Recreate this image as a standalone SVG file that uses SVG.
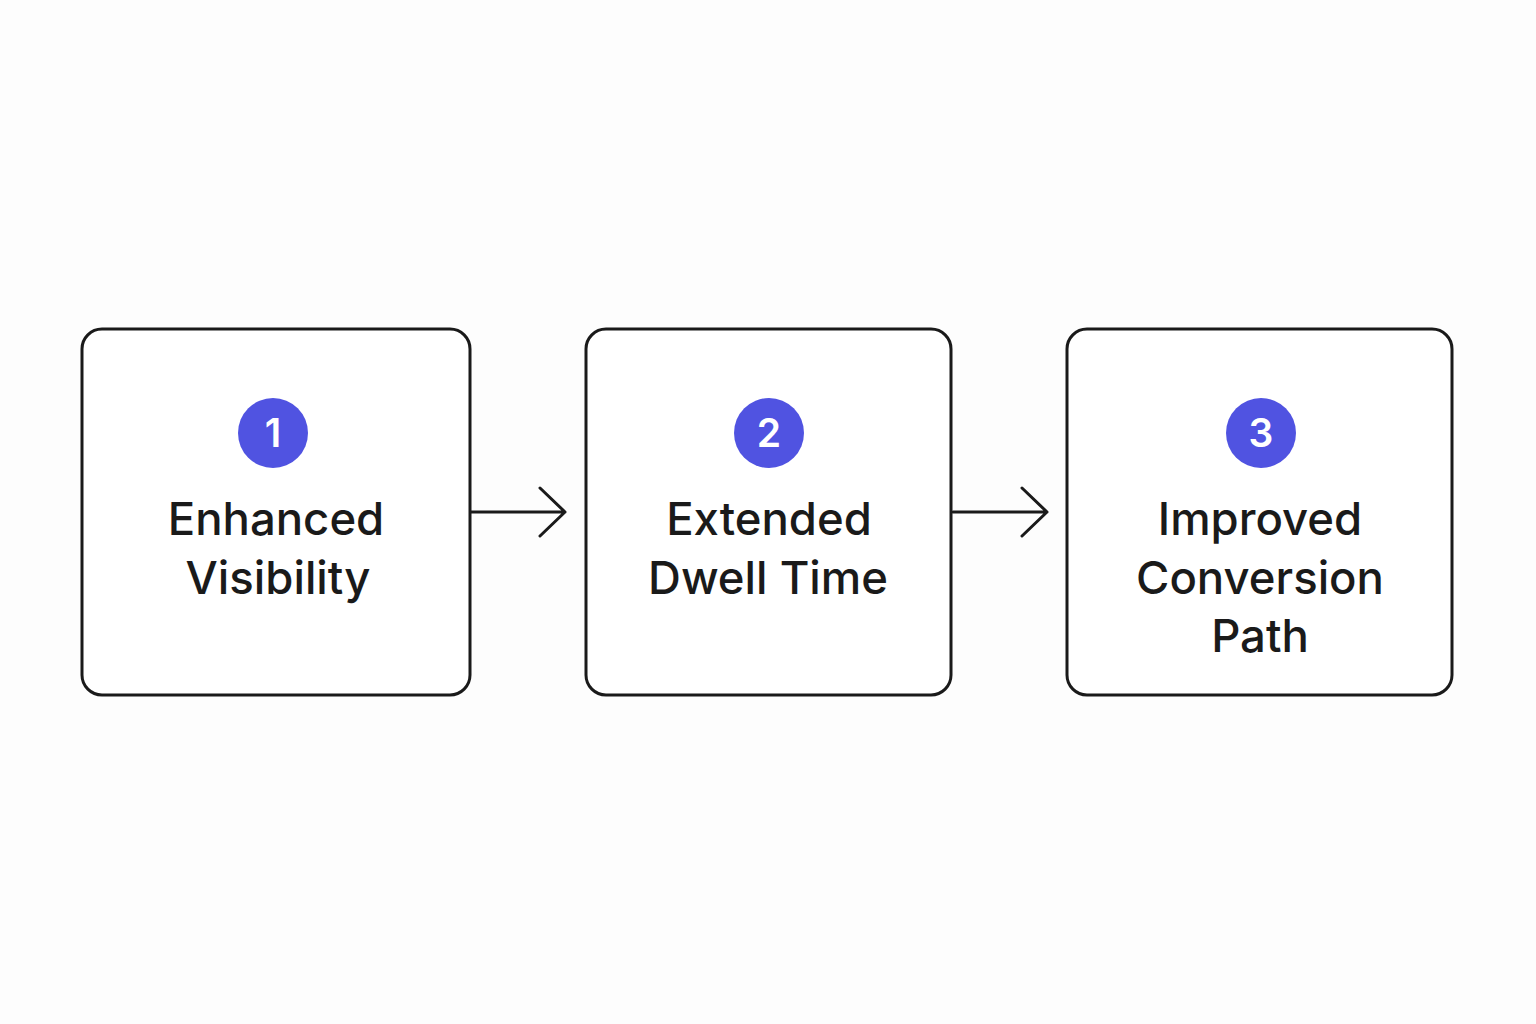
<svg xmlns="http://www.w3.org/2000/svg" width="1536" height="1024" viewBox="0 0 1536 1024">
<style>
.box{fill:#ffffff;stroke:#1a1a1a;stroke-width:3}
.badge{fill:#5053E1}
.num{font-family:Inter,"Noto Sans",sans-serif;font-size:39px;font-weight:600;fill:#ffffff;text-anchor:middle}
.lbl{font-family:Inter,"Noto Sans",sans-serif;font-size:45.5px;font-weight:500;fill:#1a1a1a;text-anchor:middle}
.conn{fill:none;stroke:#1a1a1a;stroke-width:3;stroke-linecap:round;stroke-linejoin:round}
</style>
<rect width="1536" height="1024" fill="#fdfdfd"/>
<g id="connectors">
<path class="conn" d="M471 512H565M540 488L565 512L540 536"/>
<path class="conn" d="M953 512H1047M1022 488L1047 512L1022 536"/>
</g>
<g id="node1">
<rect class="box" x="82" y="329" width="388" height="366" rx="20"/>
<circle class="badge" cx="273" cy="433" r="35"/>
<text class="num" x="273" y="447">1</text>
<text class="lbl" x="276" y="535">Enhanced</text>
<text class="lbl" x="278" y="594">Visibility</text>
</g>
<g id="node2">
<rect class="box" x="586" y="329" width="365" height="366" rx="20"/>
<circle class="badge" cx="769" cy="433" r="35"/>
<text class="num" x="769" y="447">2</text>
<text class="lbl" x="769" y="535">Extended</text>
<text class="lbl" x="768" y="594">Dwell Time</text>
</g>
<g id="node3">
<rect class="box" x="1067" y="329" width="385" height="366" rx="20"/>
<circle class="badge" cx="1261" cy="433" r="35"/>
<text class="num" x="1261" y="447">3</text>
<text class="lbl" x="1260" y="535">Improved</text>
<text class="lbl" x="1260" y="594">Conversion</text>
<text class="lbl" x="1260" y="652">Path</text>
</g>
</svg>
